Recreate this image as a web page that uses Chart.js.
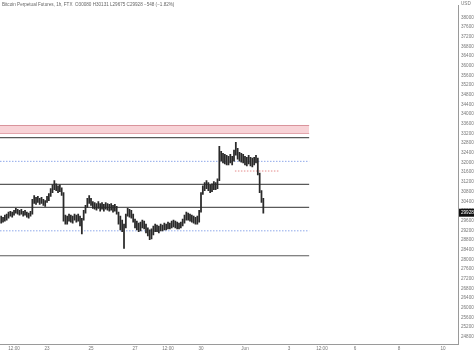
<!DOCTYPE html>
<html><head><meta charset="utf-8">
<script src="https://cdn.jsdelivr.net/npm/chart.js@4"></script>
<style>html,body{margin:0;padding:0;background:#fff}#wrap{width:474px;height:352px;position:relative}</style>
</head><body><div id="wrap"><canvas id="c"></canvas></div>
<script>
// ---- data ----
const chartTitle = "Bitcoin Perpetual Futures, 1h, FTX  O30080 H30131 L29675 C29928 \u2212548 (\u22121.82%)";
const axisUnit = "USD";
const firstBarHour = 22;     // hours since 20 May 00:00
const barStepHours = 2;
const barHigh = [29790,29740,29830,29870,29950,29990,29950,30030,30110,30070,
30030,30070,29990,30030,29950,29910,29990,30480,30640,30560,
30600,30520,30560,30480,30430,30600,30720,30920,31080,31250,
31120,31040,31080,30960,30760,29830,29790,29870,29830,29790,
29870,29830,29870,29790,29700,30030,30230,30520,30640,30520,
30390,30350,30310,30390,30310,30350,30270,30350,30310,30270,
30310,30230,30270,30190,29950,29790,29620,29460,29870,30110,
30070,30030,29870,29660,29580,29500,29540,29620,29580,29460,
29300,29220,29260,29380,29460,29420,29380,29460,29420,29500,
29460,29540,29500,29580,29620,29580,29540,29500,29540,29660,
29830,29950,29910,29870,29830,29790,29740,29790,30030,30760,
31040,31170,31250,31170,31080,31120,31210,31170,31330,32670,
32460,32380,32340,32300,32260,32340,32260,32510,32830,32590,
32420,32380,32340,32260,32220,32300,32220,32180,32220,32300,
32180,31570,30840,30520];
const barLow = [29500,29540,29580,29620,29700,29790,29740,29830,29910,29870,
29830,29870,29790,29830,29740,29700,29790,29870,30310,30270,
30350,30270,30310,30230,30190,30350,30430,30600,30760,30880,
30840,30760,30800,30640,29580,29460,29460,29580,29540,29500,
29620,29540,29580,29380,29050,29620,29910,30150,30310,30230,
30110,30070,30030,30110,29990,30070,29990,30070,30030,29990,
30030,29950,29990,29870,29460,29220,29140,28450,29300,29790,
29740,29700,29540,29300,29220,29140,29180,29300,29260,29090,
28970,28810,28850,29010,29140,29140,29090,29180,29180,29220,
29220,29260,29260,29300,29340,29300,29260,29260,29300,29380,
29500,29620,29620,29580,29540,29500,29460,29460,29540,29950,
30680,30840,30920,30840,30760,30800,30880,30880,30920,31250,
32060,31980,31940,31900,31900,31980,31900,32060,32300,32140,
32060,32020,31980,31900,31860,31940,31860,31820,31900,31980,
31490,30760,30350,29910];
const lastClose = 29928;
const solidLevels = [33030, 31100, 30150, 28150];
const dottedLevels = [32050, 29180];
const redZone = [33200, 33530];
const redDottedLevel = 31650;
const redDottedSpan = [277, 326];
const levelEndHour = 358;
const xTickHours = [36,72,120,168,204,240,288,336,372,408,456,504];
const xTickLabels = ["12:00","23","25","27","12:00","30","Jun","3","12:00","6","8","10"];
const yTickValues = [38000,37600,37200,36800,36400,36000,35600,35200,34800,34400,34000,33600,33200,32800,32400,32000,31600,31200,30800,30400,30000,29600,29200,28800,28400,28000,27600,27200,26800,26400,26000,25600,25200,24800];

// ---- build ----
const X_MIN = 20.7, X_MAX = 520.4, Y_MIN = 24506, Y_MAX = 38475;
const FONT = "'Liberation Sans', Arial, sans-serif";
const hline = (v, from, to, color, width, dash, extra) => Object.assign({
  type:'line', data:[{x:from,y:v},{x:to,y:v}], borderColor:color, borderWidth:width,
  borderDash:dash||[], pointRadius:0, fill:false, order:2, tension:0
}, extra||{});

const datasets = [];
datasets.push({
  type:'bar', order:0,
  data: barHigh.map((h,i)=>({x:firstBarHour+i*barStepHours, y:[barLow[i], h]})),
  backgroundColor:'#2a2a2a', barThickness:1.1, borderWidth:0
});
datasets.push(hline(redZone[1], X_MIN, levelEndHour, '#d9939b', 1, null, {fill:'+1', backgroundColor:'rgba(246,196,202,0.75)'}));
datasets.push(hline(redZone[0], X_MIN, levelEndHour, '#d9939b', 1));
solidLevels.forEach(v=>datasets.push(hline(v, X_MIN, levelEndHour, '#5a5a5a', 1.2)));
dottedLevels.forEach(v=>datasets.push(hline(v, X_MIN, levelEndHour, '#8ea8ea', 1, [1.5,1.5])));
datasets.push(hline(redDottedLevel, redDottedSpan[0], redDottedSpan[1], '#e58a8a', 1, [1.5,1.5]));

const overlay = {
  id:'overlay',
  afterDraw(chart){
    const ctx = chart.ctx, ys = chart.scales.y, ca = chart.chartArea;
    ctx.save();
    ctx.font = "4.6px " + FONT;
    ctx.fillStyle = '#666';
    ctx.textBaseline = 'middle';
    ctx.textAlign = 'left';
    ctx.fillText(chartTitle, 2, 4.5);
    ctx.fillStyle = '#777';
    ctx.fillText(axisUnit, ca.right + 3, 3.5);
    const py = ys.getPixelForValue(lastClose);
    ctx.fillStyle = '#111';
    ctx.fillRect(ca.right + 1, py - 4, 474 - ca.right - 1, 8);
    ctx.fillStyle = '#fff';
    ctx.fillText(String(lastClose), ca.right + 3, py + 0.3);
    ctx.restore();
  }
};

new Chart(document.getElementById('c'), {
  data:{datasets},
  options:{
    responsive:true, maintainAspectRatio:false, animation:false, devicePixelRatio:1,
    layout:{padding:0},
    plugins:{legend:{display:false}, tooltip:{enabled:false}, title:{display:false}},
    scales:{
      x:{type:'linear', min:X_MIN, max:X_MAX, offset:false,
        grid:{display:false, drawTicks:false},
        border:{display:true, color:'#9a9a9a'},
        afterBuildTicks:s=>{ s.ticks = xTickHours.map(v=>({value:v})); },
        afterFit:s=>{ s.height = 8; },
        ticks:{autoSkip:false, maxRotation:0, minRotation:0, padding:2, color:'#777',
          font:{size:4.6, family:FONT},
          callback:(v)=>{ const k = xTickHours.indexOf(v); return k>=0 ? xTickLabels[k] : ''; }}
      },
      y:{type:'linear', position:'right', min:Y_MIN, max:Y_MAX,
        grid:{display:false, drawTicks:false},
        border:{display:true, color:'#9a9a9a'},
        afterBuildTicks:s=>{ s.ticks = yTickValues.map(v=>({value:v})); },
        afterFit:s=>{ s.width = 16; },
        ticks:{autoSkip:false, padding:3, color:'#777', font:{size:4.6, family:FONT},
          callback:(v)=>String(v)}
      }
    }
  },
  plugins:[overlay]
});
</script></body></html>
